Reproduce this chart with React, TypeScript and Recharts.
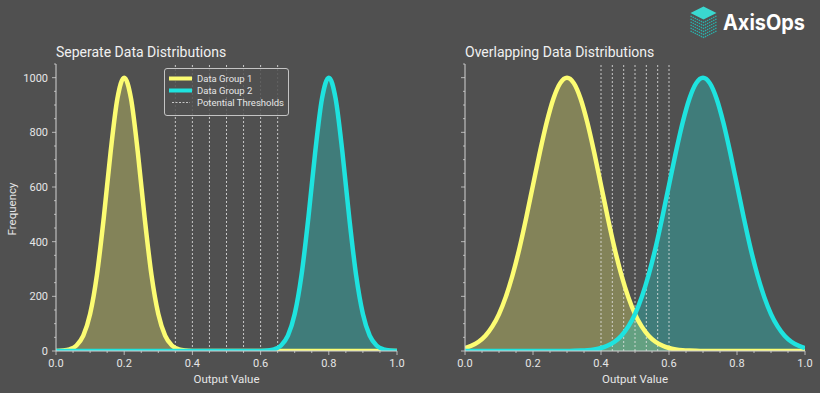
import { ComposedChart, Area, Line, XAxis, YAxis, ReferenceLine, Legend } from 'recharts';

// sample positions along the output axis
const xValues = [
  0, 0.02, 0.04, 0.06, 0.08, 0.1, 0.12, 0.14, 0.16, 0.18,
  0.2, 0.22, 0.24, 0.26, 0.28, 0.3, 0.32, 0.34, 0.36, 0.38,
  0.4, 0.42, 0.44, 0.46, 0.48, 0.5, 0.52, 0.54, 0.56, 0.58,
  0.6, 0.62, 0.64, 0.66, 0.68, 0.7, 0.72, 0.74, 0.76, 0.78,
  0.8, 0.82, 0.84, 0.86, 0.88, 0.9, 0.92, 0.94, 0.96, 0.98, 1,
];

// left panel: two narrow, well separated groups
const separateGroup1 = [
  0.3, 1.5, 6, 20, 56, 135, 278, 487, 726, 923,
  1000, 923, 726, 487, 278, 135, 56, 20, 6, 1.5,
  0.3, 0, 0, 0, 0, 0, 0, 0, 0, 0,
  0, 0, 0, 0, 0, 0, 0, 0, 0, 0,
  0, 0, 0, 0, 0, 0, 0, 0, 0, 0, 0,
];
const separateGroup2 = [
  0, 0, 0, 0, 0, 0, 0, 0, 0, 0,
  0, 0, 0, 0, 0, 0, 0, 0, 0, 0,
  0, 0, 0, 0, 0, 0, 0, 0, 0, 0,
  0.3, 1.5, 6, 20, 56, 135, 278, 487, 726, 923,
  1000, 923, 726, 487, 278, 135, 56, 20, 6, 1.5, 0.3,
];

// right panel: two wide groups that overlap in the middle
const overlapGroup1 = [
  11, 20, 34, 56, 89, 135, 198, 278, 375, 487,
  607, 726, 835, 923, 980, 1000, 980, 923, 835, 726,
  607, 487, 375, 278, 198, 135, 89, 56, 34, 20,
  11, 6, 3, 1.5, 0.7, 0.3, 0, 0, 0, 0,
  0, 0, 0, 0, 0, 0, 0, 0, 0, 0, 0,
];
const overlapGroup2 = [
  0, 0, 0, 0, 0, 0, 0, 0, 0, 0,
  0, 0, 0, 0, 0, 0.3, 0.7, 1.5, 3, 6,
  11, 20, 34, 56, 89, 135, 198, 278, 375, 487,
  607, 726, 835, 923, 980, 1000, 980, 923, 835, 726,
  607, 487, 375, 278, 198, 135, 89, 56, 34, 20, 11,
];

const separateThresholds = [0.35, 0.4, 0.45, 0.5, 0.55, 0.6, 0.65];
const overlapThresholds = [0.4, 0.4333, 0.4667, 0.5, 0.5333, 0.5667, 0.6];

const xTicks = [
  0, 0.05, 0.1, 0.15, 0.2, 0.25, 0.3, 0.35, 0.4, 0.45, 0.5,
  0.55, 0.6, 0.65, 0.7, 0.75, 0.8, 0.85, 0.9, 0.95, 1,
];
const xMajorTicks = [0, 0.2, 0.4, 0.6, 0.8, 1];
const yTicks = [
  0, 50, 100, 150, 200, 250, 300, 350, 400, 450, 500,
  550, 600, 650, 700, 750, 800, 850, 900, 950, 1000, 1050,
];
const yMajorTicks = [0, 200, 400, 600, 800, 1000];

const FONT = 'Roboto, "Noto Sans", sans-serif';
const BG = '#505050';
const YELLOW = '#fcfc72';
const CYAN = '#1ee3df';
const AXIS = '#d2d2d2';
const TEXT = '#e6e6e6';

const separateData = xValues.map((x, i) => ({ x, g1: separateGroup1[i], g2: separateGroup2[i] }));
const overlapData = xValues.map((x, i) => ({ x, g1: overlapGroup1[i], g2: overlapGroup2[i] }));

const isMajor = (list: number[], v: number) => list.some((m) => Math.abs(m - v) < 1e-6);

const XTick = ({ x, y, payload }: any) => {
  const major = isMajor(xMajorTicks, payload.value);
  return (
    <g>
      <line x1={x} x2={x} y1={y} y2={y + (major ? 4 : 2)} stroke={AXIS} strokeWidth={0.8} />
      {major && (
        <text x={x} y={y + 16} textAnchor="middle" fill={TEXT} fontSize={11} fontFamily={FONT}>
          {payload.value.toFixed(1)}
        </text>
      )}
    </g>
  );
};

const makeYTick = (showLabels: boolean) => ({ x, y, payload }: any) => {
  const major = isMajor(yMajorTicks, payload.value);
  return (
    <g>
      <line x1={x} x2={x - (major ? 4 : 2)} y1={y} y2={y} stroke={AXIS} strokeWidth={0.8} />
      {major && showLabels && (
        <text x={x - 8} y={y + 4} textAnchor="end" fill={TEXT} fontSize={11} fontFamily={FONT}>
          {payload.value}
        </text>
      )}
    </g>
  );
};

const LegendBox = () => (
  <div
    style={{
      position: 'relative',
      width: 123,
      height: 46,
      border: '1px solid #c4c4c4',
      borderRadius: 3,
      background: 'rgba(80,80,80,0.85)',
    }}
  >
    <svg width={123} height={46} style={{ position: 'absolute', left: 0, top: 0 }}>
      <line x1={4} x2={27} y1={9.5} y2={9.5} stroke={YELLOW} strokeWidth={4} />
      <line x1={4} x2={27} y1={21.5} y2={21.5} stroke={CYAN} strokeWidth={4} />
      <line x1={7} x2={25} y1={33.5} y2={33.5} stroke="#e6e6e6" strokeWidth={0.8} strokeDasharray="2 1.5" />
      <text x={32} y={12.8} fill={TEXT} fontSize={9.5} fontFamily={FONT}>Data Group 1</text>
      <text x={32} y={24.8} fill={TEXT} fontSize={9.5} fontFamily={FONT}>Data Group 2</text>
      <text x={32} y={36.8} fill={TEXT} fontSize={9.5} fontFamily={FONT}>Potential Thresholds</text>
    </svg>
  </div>
);

interface PanelProps {
  data: { x: number; g1: number; g2: number }[];
  thresholds: number[];
  showYLabels: boolean;
  left: number;
  marginLeft: number;
  marginRight: number;
  withLegend?: boolean;
}

const DistributionPanel = ({ data, thresholds, showYLabels, left, marginLeft, marginRight, withLegend }: PanelProps) => (
  <div style={{ position: 'absolute', left, top: 0 }}>
    <ComposedChart width={410} height={393} data={data} margin={{ top: 64, right: marginRight, bottom: 12, left: marginLeft }}>
      <XAxis
        dataKey="x"
        type="number"
        domain={[0, 1]}
        ticks={xTicks}
        interval={0}
        tickSize={0}
        tickMargin={0}
        tickLine={false}
        tick={(props: any) => <XTick {...props} />}
        axisLine={{ stroke: AXIS, strokeWidth: 1 }}
        height={30}
        allowDataOverflow
      />
      <YAxis
        type="number"
        domain={[0, 1050]}
        ticks={yTicks}
        interval={0}
        tickSize={0}
        tickMargin={0}
        tickLine={false}
        tick={makeYTick(showYLabels)}
        axisLine={{ stroke: AXIS, strokeWidth: 1 }}
        width={40}
        allowDataOverflow
      />
      <Area type="monotone" dataKey="g1" stroke="none" fill={YELLOW} fillOpacity={0.3} isAnimationActive={false} dot={false} activeDot={false} />
      <Area type="monotone" dataKey="g2" stroke="none" fill={CYAN} fillOpacity={0.3} isAnimationActive={false} dot={false} activeDot={false} />
      {thresholds.map((t) => (
        <ReferenceLine key={t} x={t} stroke="#e6e6e6" strokeWidth={0.8} strokeDasharray="2 2" />
      ))}
      <Line type="monotone" dataKey="g1" stroke={YELLOW} strokeWidth={4.5} dot={false} activeDot={false} isAnimationActive={false} />
      <Line type="monotone" dataKey="g2" stroke={CYAN} strokeWidth={4.5} dot={false} activeDot={false} isAnimationActive={false} />
      {withLegend && (
        <Legend
          layout="horizontal"
          verticalAlign="middle"
          align="center"
          wrapperStyle={{ left: 164, top: 68, width: 125, height: 48 }}
          content={() => <LegendBox />}
        />
      )}
    </ComposedChart>
  </div>
);

const App = () => (
  <div style={{ position: 'absolute', left: 0, top: 0, width: 820, height: 393, background: BG, overflow: 'hidden' }}>
    <DistributionPanel data={separateData} thresholds={separateThresholds} showYLabels left={0} marginLeft={16} marginRight={13} withLegend />
    <DistributionPanel data={overlapData} thresholds={overlapThresholds} showYLabels={false} left={410} marginLeft={15} marginRight={15} />

    <svg width={820} height={393} style={{ position: 'absolute', left: 0, top: 0, pointerEvents: 'none' }}>
      <text x={56} y={57} fill="#f0f0f0" fontSize={14} fontFamily={FONT}>Seperate Data Distributions</text>
      <text x={465} y={57} fill="#f0f0f0" fontSize={14} fontFamily={FONT}>Overlapping Data Distributions</text>
      <text x={226.5} y={383} textAnchor="middle" fill={TEXT} fontSize={11.5} fontFamily={FONT}>Output Value</text>
      <text x={635} y={383} textAnchor="middle" fill={TEXT} fontSize={11.5} fontFamily={FONT}>Output Value</text>
      <text x={16} y={209} textAnchor="middle" fill={TEXT} fontSize={11.5} fontFamily={FONT} transform="rotate(-90, 16, 209)">
        Frequency
      </text>

      {/* logo */}
      <g>
        {[1, 2, 3, 4, 5, 6].map((k) => (
          <polyline
            key={k}
            points={`690.5,${13 + k * 3} 703.5,${19.5 + k * 3} 716.5,${13 + k * 3}`}
            fill="none"
            stroke="#29b3ad"
            strokeWidth={1.3}
            strokeDasharray="1.5 0.8"
          />
        ))}
        <polygon points="690.5,13 703.5,6.5 716.5,13 703.5,19.5" fill="#3ad8d0" />
        <text x={723} y={30} fill="#ffffff" fontSize={21} fontWeight={700} fontFamily="Inter, Roboto, sans-serif" textLength={82} lengthAdjust="spacingAndGlyphs">
          AxisOps
        </text>
      </g>
    </svg>
  </div>
);

export default App;
